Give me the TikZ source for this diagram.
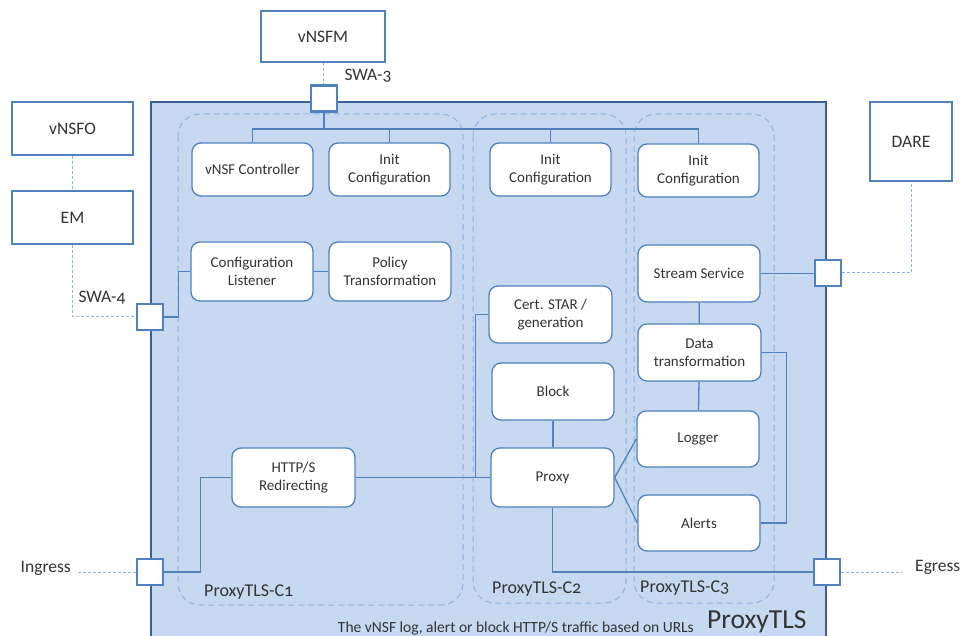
\documentclass[tikz,border=0pt]{standalone}
\usepackage{fontspec}
\setmainfont{Carlito}[Numbers=OldStyle]
\usetikzlibrary{calc}
\definecolor{panel}{HTML}{C6D9F1}
\definecolor{edge}{HTML}{4F81BD}
\definecolor{frame}{HTML}{3B6193}
\definecolor{dashblue}{HTML}{8DB4E2}
\definecolor{ink}{HTML}{333333}
\tikzset{
  unit/.style={draw=edge, fill=white, line width=1.3pt, rounded corners=9pt,
    align=center, text=ink, inner sep=0pt,
    font=\fontsize{15}{17.5}\selectfont},
  ext/.style={draw=edge, fill=white, line width=2.5pt, text=ink, inner sep=0pt,
    font=\fontsize{17.5}{20}\selectfont},
  port/.style={draw=edge, fill=white, line width=2.5pt, minimum size=26pt, inner sep=0pt},
  link/.style={draw=edge, line width=1.3pt},
  dashlink/.style={draw=dashblue, line width=1pt, dash pattern=on 3pt off 2pt},
  container/.style={draw=dashblue, line width=1pt, dash pattern=on 6pt off 4pt, rounded corners=22pt},
  lbl/.style={text=ink, inner sep=3pt, font=\fontsize{17.5}{20}\selectfont},
  zone/.style={text=ink, inner sep=0pt, font=\fontsize{18}{20}\selectfont},
}
\begin{document}
\begin{tikzpicture}[x=1pt, y=-1pt]
\useasboundingbox (0,0) rectangle (964,636);
\clip (0,0) rectangle (964,636);

% ProxyTLS enclosure
\draw[draw=frame, line width=2.5pt, fill=panel] (151,102) rectangle (826,680);

% component containers
\draw[container] (178,114) rectangle (463,605);
\draw[container] (473,114) rectangle (626,603);
\draw[container] (634,114) rectangle (774,603);

% external entities
\node[ext, minimum width=124pt, minimum height=51pt] (vnsfm) at (323,36.5) {vNSFM};
\node[ext, minimum width=121pt, minimum height=53pt] (vnsfo) at (72.5,128.5) {vNSFO};
\node[ext, minimum width=121pt, minimum height=53pt] (em) at (72.5,217.5) {EM};
\node[ext, minimum width=82pt, minimum height=79pt] (dare) at (911,141.5) {DARE};

% ports on the enclosure
\node[port] (p3) at (324,98.5) {};
\node[port] (p4) at (150,317) {};
\node[port] (pin) at (150,572) {};
\node[port] (pout) at (827,572) {};
\node[port] (pd) at (828,273) {};

% ProxyTLS-C1
\node[unit, minimum width=121pt, minimum height=53pt] (ctrl) at (252.5,169.5) {vNSF Controller};
\node[unit, minimum width=121pt, minimum height=53pt] (initA) at (389.5,169.5) {Init\\Configuration};
\node[unit, minimum width=122pt, minimum height=59pt] (listen) at (252,271.5) {Configuration\\Listener};
\node[unit, minimum width=122pt, minimum height=59pt] (policy) at (390,271.5) {Policy\\Transformation};
\node[unit, minimum width=123pt, minimum height=59pt] (redirect) at (293.5,477.5) {HTTP/S\\Redirecting};

% ProxyTLS-C2
\node[unit, minimum width=121pt, minimum height=53pt] (initB) at (550.5,169.5) {Init\\Configuration};
\node[unit, minimum width=123pt, minimum height=57pt] (cert) at (550.5,314.5) {Cert. STAR /\\generation};
\node[unit, minimum width=122pt, minimum height=57pt] (block) at (553,391.5) {Block};
\node[unit, minimum width=123pt, minimum height=59pt] (proxy) at (552.5,477.5) {Proxy};

% ProxyTLS-C3
\node[unit, minimum width=121pt, minimum height=53pt] (initC) at (698.5,170.5) {Init\\Configuration};
\node[unit, minimum width=122pt, minimum height=57pt] (stream) at (699,273.5) {Stream Service};
\node[unit, minimum width=123pt, minimum height=57pt] (datat) at (699.5,352.5) {Data\\transformation};
\node[unit, minimum width=122pt, minimum height=56pt] (logger) at (698,439) {Logger};
\node[unit, minimum width=122pt, minimum height=56pt] (alerts) at (699,523) {Alerts};

% management bus from SWA-3
\coordinate (bus) at (324,129);
\draw[link] (p3.south) -- (bus);
\draw[link] (ctrl.north) |- (bus) -| (initC.north);
\draw[link] (initA.north) -- (initA.north |- bus);
\draw[link] (initB.north) -- (initB.north |- bus);

% internal links
\draw[link] (listen) -- (policy);
\draw[link] (p4.east) -- ++(14,0) |- (listen.west);
\draw[link] (pin.east) -- ++(36,0) |- (redirect.west);
\draw[link] (redirect) -- (proxy);
\draw[link] (cert.west) -- ++(-13,0) |- (proxy.west);
\draw[link] (block.south) -- (block.south |- proxy.north);
\draw[link] (proxy.south) |- (pout.west);
\draw[link] (proxy.east) -- (logger.west);
\draw[link] (proxy.east) -- (alerts.west);
\draw[link] (stream) -- (datat);
\draw[link] (datat) -- (logger);
\draw[link] (datat.east) -- ++(25,0) |- (alerts.east);
\draw[link] (stream.east) -- (stream.east -| pd.west);

% labels
\node[lbl] (swa3) at (368,76) {SWA-3};
\node[lbl] (swa4) at (102,298) {SWA-4};
\node[lbl, anchor=east] (ingress) at (74,568) {Ingress};
\node[lbl, anchor=west] (egress) at (912,567) {Egress};
\node[zone, anchor=base west] (c1) at (204,596) {ProxyTLS-C1};
\node[zone, anchor=base west] (c2) at (492,593) {ProxyTLS-C2};
\node[zone, anchor=base west] (c3) at (640,592) {ProxyTLS-C3};
\node[text=ink, inner sep=0pt, anchor=base west, font=\fontsize{27.5}{30}\selectfont] (title) at (707,628) {ProxyTLS};
\node[text=ink, inner sep=0pt, anchor=base east, font=\fontsize{15.5}{17}\selectfont] (caption) at (694,632) {The vNSF log, alert or block HTTP/S traffic based on URLs};

% external (dashed) links
\draw[dashlink] (vnsfm.south) -- (vnsfm.south |- p3.north);
\draw[dashlink] (vnsfo) -- (em);
\draw[dashlink] (em.south) |- (p4.west);
\coordinate (inEnd) at (77,570);
\draw[dashlink] (pin.west) -- (pin.west -| inEnd);
\coordinate (outEnd) at (902,572);
\draw[dashlink] (pout.east) -- (outEnd);
\draw[dashlink] (pd.east) -| (dare.south);
\end{tikzpicture}
\end{document}
